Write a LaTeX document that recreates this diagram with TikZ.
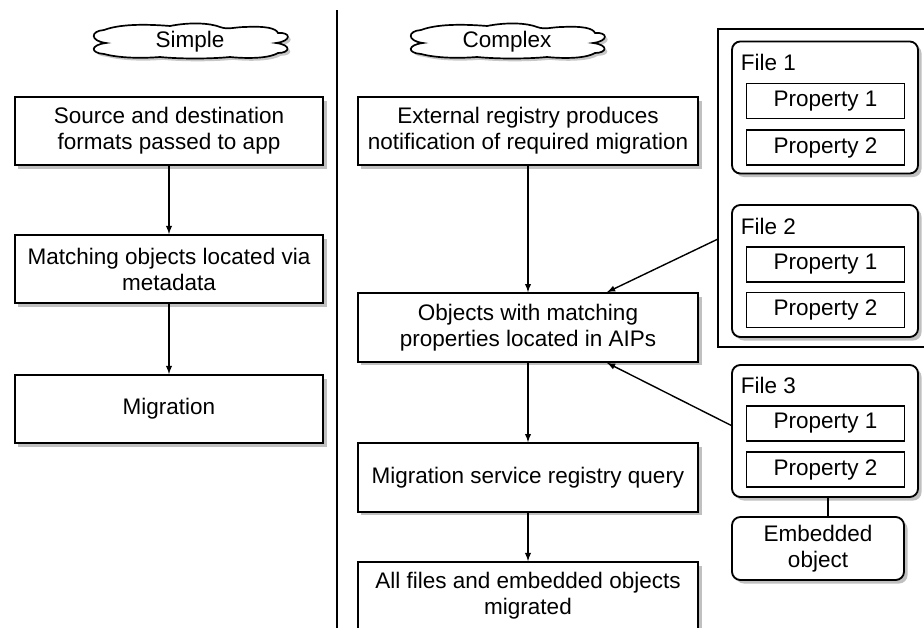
\documentclass[tikz,border=0pt]{standalone}
\usepackage{fontspec}
\setmainfont{Liberation Sans}
\usetikzlibrary{shadows,calc}

\tikzset{
  stepbox/.style={draw, line width=1.3pt, fill=white, align=center,
    drop shadow={shadow xshift=2.5pt, shadow yshift=-2.5pt, fill=black!55, opacity=.45}},
  filebox/.style={stepbox, rounded corners=6pt},
  propbox/.style={draw, line width=1pt, fill=white,
    minimum width=3.95cm, minimum height=.875cm, inner sep=0pt},
  flow/.style={-latex, line width=1pt},
  cloudline/.style={draw, line width=1.2pt, fill=white,
    drop shadow={shadow xshift=2pt, shadow yshift=-2pt, fill=black!55, opacity=.4}}
}

% banner cloud drawn around (0,0)
\newcommand{\flatcloud}{%
  \path[cloudline] (-86,-11) .. controls (-70,-17) and (-45,-17) .. (-20,-15)
    .. controls (0,-19) and (20,-18) .. (30,-14)
    .. controls (38,-11) and (45,-14) .. (55,-14)
    .. controls (75,-15) and (86,-13) .. (88,-8)
    .. controls (101,-9) and (102,0) .. (86,2)
    .. controls (102,4) and (100,12) .. (88,12)
    .. controls (80,17) and (60,18) .. (40,16)
    .. controls (20,18) and (-10,18) .. (-30,16)
    .. controls (-55,18) and (-75,16) .. (-86,13)
    .. controls (-100,12) and (-100,4) .. (-84,2)
    .. controls (-100,0) and (-100,-10) .. (-86,-11) -- cycle;}

\begin{document}
\begin{tikzpicture}[x=0.025cm, y=-0.025cm,
    every node/.style={font=\fontsize{16}{18.5}\selectfont}]
  \useasboundingbox (0,0) rectangle (924,628);

  % divider
  \draw[line width=1pt] (337,10) -- (337,628);

  % headers
  \begin{scope}[shift={(190,41)}] \flatcloud \end{scope}
  \node (simple) at (190,42) {Simple};
  \begin{scope}[shift={(507,41)}] \flatcloud \end{scope}
  \node (complex) at (507,42) {Complex};

  % simple column
  \node[stepbox, minimum width=7.7cm, minimum height=1.7cm] (src) at (169,131)
    {Source and destination\\formats passed to app};
  \node[stepbox, minimum width=7.7cm, minimum height=1.7cm] (match) at (169,269)
    {Matching objects located via\\metadata};
  \node[stepbox, minimum width=7.7cm, minimum height=1.7cm] (migr) at (169,409)
    {Migration};
  \draw[flow] (src) -- (match);
  \draw[flow] (match) -- (migr);

  % complex column
  \node[stepbox, minimum width=8.5cm, minimum height=1.7cm] (ext) at (528,131)
    {External registry produces\\notification of required migration};
  \node[stepbox, minimum width=8.5cm, minimum height=1.72cm] (objs) at (528,327.5)
    {Objects with matching\\properties located in AIPs};
  \node[stepbox, minimum width=8.5cm, minimum height=1.72cm] (query) at (528,477.5)
    {Migration service registry query};
  \node[stepbox, minimum width=8.5cm, minimum height=1.7cm] (allmig) at (528,596)
    {All files and embedded objects\\migrated};
  \draw[flow] (ext) -- (objs);
  \draw[flow] (objs) -- (query);
  \draw[flow] (query) -- (allmig);

  % files
  \draw[line width=1pt] (930,29) -- (718,29) -- (718,347) -- (930,347);
  \coordinate (cont) at (718,239);

  \node[filebox, minimum width=4.65cm, minimum height=3.3cm] (file1) at (825,107.5) {};
  \node[anchor=west] at (736,62) {File 1};
  \node[propbox] (f1p1) at (825.5,101) {Property 1};
  \node[propbox] (f1p2) at (825.5,147.5) {Property 2};

  \node[filebox, minimum width=4.65cm, minimum height=3.3cm] (file2) at (825,271) {};
  \node[anchor=west] at (736,226) {File 2};
  \node[propbox] (f2p1) at (825.5,264.5) {Property 1};
  \node[propbox] (f2p2) at (825.5,310) {Property 2};

  \node[filebox, minimum width=4.65cm, minimum height=3.3cm] (file3) at (825,431) {};
  \node[anchor=west] at (736,385) {File 3};
  \node[propbox] (f3p1) at (825.5,423.5) {Property 1};
  \node[propbox] (f3p2) at (825.5,469.5) {Property 2};

  \node[filebox, minimum width=4.3cm, minimum height=1.575cm] (embed) at (818,548.5)
    {Embedded\\object};
  \draw[line width=1pt] (file3.south -| 828,0) -- (embed.north -| 828,0);

  \draw[flow] (cont) -- ($(objs.north)+(79,0)$);
  \draw[flow] ([yshift=4pt]file3.west) -- ($(objs.south)+(79,0)$);
\end{tikzpicture}
\end{document}
